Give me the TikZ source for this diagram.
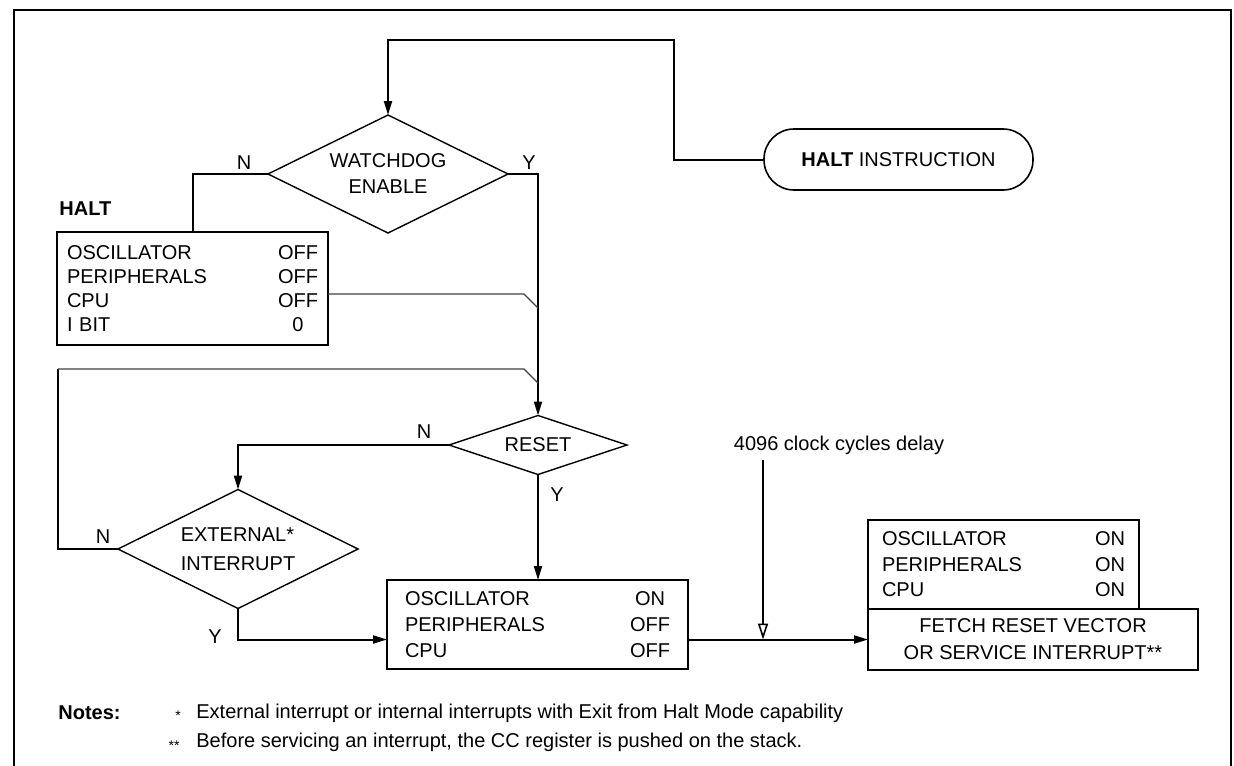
\documentclass[tikz,border=0pt]{standalone}
\usepackage{fontspec}
\setmainfont{Liberation Sans}
\usetikzlibrary{
  shapes.geometric,
  arrows.meta,
  positioning,
  calc
}

\tikzset{
  flow/.style = {line width=1pt},
  flowarr/.style = {flow, -{Triangle[length=7pt, width=4pt]}},
  delayarr/.style = {line width=0.8pt, -{Triangle[open, length=8pt, width=5pt]}},
  merge/.style = {line width=0.6pt, draw=black!75},
  decision/.style = {diamond, aspect=2, draw, line width=0.7pt, inner sep=0pt, outer sep=0pt, align=center},
  statebox/.style = {rectangle, draw, line width=1pt, outer sep=0pt, inner ysep=0pt, align=left},
  lbl/.style = {inner sep=0pt}
}
\newcommand\srow[3][20pt]{#2\hskip 0pt plus 1filll\makebox[#1]{#3}}

\begin{document}
\begin{tikzpicture}[x=0.5pt, y=-0.5pt, font=\fontsize{10}{12.5}\selectfont]
    \useasboundingbox (0,0) rectangle (1234,765);
    % frame, open at the bottom
    \draw[flow] (14,800) -- (14,10) -- (1231,10) -- (1231,800);

    \node[rectangle, draw, line width=0.8pt, rounded corners=15pt, minimum width=134.5pt, minimum height=30.5pt] (haltinstr) at (898.5,159.5) {\textbf{HALT} INSTRUCTION};

    \node[decision, font=\fontsize{10}{13}\selectfont, minimum width=120pt, minimum height=59pt] (watchdog) at (388,174) {WATCHDOG\\ENABLE};
    \node[decision, aspect=3, minimum width=89pt, minimum height=29.5pt] (reset) at (538,445) {RESET};
    \node[decision, font=\fontsize{10}{14.5}\selectfont, minimum width=120pt, minimum height=59.5pt, align=left] (extint) at (238,549) {EXTERNAL*\\INTERRUPT};

    \node[statebox, font=\fontsize{10}{12}\selectfont, text width=125.5pt, inner xsep=5pt, minimum height=56.5pt] (haltbox) at (192.5,288.5)
      {\srow{OSCILLATOR}{OFF}\\\srow{PERIPHERALS}{OFF}\\\srow{CPU}{OFF}\\\srow{I BIT}{0}};
    \node[lbl, font=\bfseries, above right=8pt and 1pt of haltbox.north west] (haltlbl) {HALT};

    \node[statebox, font=\fontsize{10}{13}\selectfont, text width=132.5pt, inner xsep=9pt, minimum height=44.5pt] (mid) at (537.5,624.5)
      {\srow{OSCILLATOR}{ON}\\\srow{PERIPHERALS}{OFF}\\\srow{CPU}{OFF}};

    \node[rectangle, draw, line width=1pt, outer sep=0pt, align=center, font=\fontsize{10}{13.5}\selectfont, minimum width=165pt, minimum height=30.5pt] (fetch) at (1033,639.5)
      {FETCH RESET VECTOR\\OR SERVICE INTERRUPT**};
    \node[statebox, font=\fontsize{10}{12.75}\selectfont, text width=121.5pt, inner xsep=7pt, minimum height=44.5pt, above right=0pt of fetch.north west] (onbox)
      {\srow[15pt]{OSCILLATOR}{ON}\\\srow[15pt]{PERIPHERALS}{ON}\\\srow[15pt]{CPU}{ON}};

    \node[lbl] (delay) at (839,445) {4096 clock cycles delay};
    \coordinate (tap) at (763,639.5);

    % branch labels
    \node[lbl] (wdn) at (244,163) {N};
    \node[lbl] (wdy) at (529,163) {Y};
    \node[lbl] (rsn) at (424,432) {N};
    \node[lbl] (rsy) at (557,495) {Y};
    \node[lbl] (exn) at (103,537) {N};
    \node[lbl] (exy) at (215,637) {Y};

    % connectors
    \draw[flowarr] (haltinstr.west) -- ++(-89,0) |- ([yshift=37.5pt]watchdog.north) -- (watchdog.north);
    \draw[flow] (watchdog.west) -| (haltbox.north);
    \draw[flowarr] (watchdog.east) -| (reset.north);
    \draw[merge] (haltbox.east |- 0,294) -- ++(196,0) -- ++(14,14);
    \draw[flow] (extint.west) -| (58,369);
    \draw[merge] (58,369) -- ++(466,0) -- ++(14,14);
    \draw[flowarr] (reset.west) -| (extint.north);
    \draw[flowarr] (reset.south) -- (reset.south |- mid.north);
    \draw[flowarr] (extint.south) |- (fetch.west -| mid.west);
    \draw[flowarr] (fetch.west -| mid.east) -- (fetch.west);
    \draw[delayarr] ([yshift=-2.5pt]delay.south -| tap) -- (tap);

    % notes
    \node[lbl, anchor=west, font=\bfseries] (notes) at (58,713) {Notes:};
    \node[lbl, font=\fontsize{7}{7}\selectfont] (star1) at (178,716) {*};
    \node[lbl, font=\fontsize{7}{7}\selectfont] (star2) at (174,746) {**};
    \node[lbl, anchor=west] (note1) at (196,713) {External interrupt or internal interrupts with Exit from Halt Mode capability};
    \node[lbl, anchor=west] (note2) at (196,742) {Before servicing an interrupt, the CC register is pushed on the stack.};
\end{tikzpicture}
\end{document}
